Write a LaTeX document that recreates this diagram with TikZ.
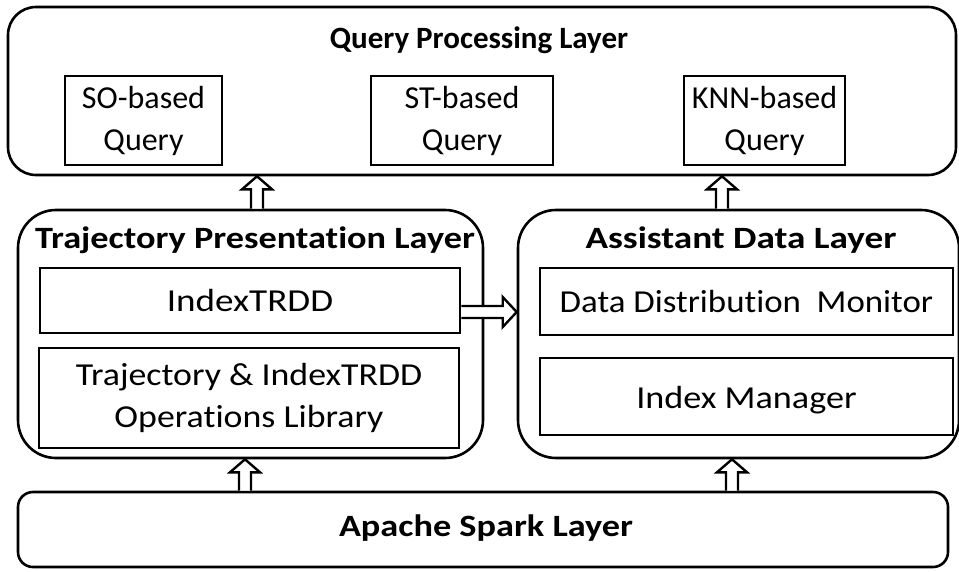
\documentclass[tikz,border=0pt]{standalone}
\usepackage{fontspec}
\setmainfont{Carlito}[Ligatures=NoCommon]
\usetikzlibrary{calc}
\newcommand\sx[2]{\scalebox{#1}[1]{#2}}
\begin{document}
\begin{tikzpicture}[x=1pt,y=-1pt,
  layer/.style={draw,line width=2.6pt,rounded corners=#1,inner sep=0pt},
  inbox/.style={draw,line width=2.6pt,inner sep=0pt,align=center,font=\fontsize{32}{42}\selectfont},
  ttl/.style={font=\fontsize{31}{36}\selectfont\bfseries,inner sep=0pt},
  hollow/.style={draw,line width=2.4pt,fill=white,line join=miter}]
\useasboundingbox (0,0) rectangle (959,571);
% layers
\node[layer=28,minimum width=948pt,minimum height=168pt] (qpl) at (482,91) {};
\node[ttl] (qplt) at (479,40) {Query Processing Layer};
\node[inbox,minimum width=157pt,minimum height=89pt] (so) at (143.5,120.5) {SO-based\\Query};
\node[inbox,minimum width=182pt,minimum height=89pt] (st) at (462,120.5) {ST-based\\Query};
\node[inbox,minimum width=161pt,minimum height=89pt] (knn) at (764.5,120.5) {KNN-based\\Query};
\node[layer=38,minimum width=465pt,minimum height=248pt] (tpl) at (250.5,334) {};
\node[ttl] (tplt) at (255,240) {\sx{1.17}{Trajectory Presentation Layer}};
\node[inbox,minimum width=420pt,minimum height=65pt] (idx) at (250,300.5) {\sx{1.16}{IndexTRDD}};
\node[inbox,minimum width=420pt,minimum height=100pt] (ops) at (249,398) {\sx{1.12}{Trajectory \& IndexTRDD}\\\sx{1.12}{Operations Library}};
\node[layer=38,minimum width=441pt,minimum height=248pt] (adl) at (738.5,334) {};
\node[ttl] (adlt) at (741,240) {\sx{1.2}{Assistant Data Layer}};
\node[inbox,minimum width=413pt,minimum height=67pt] (ddm) at (746.5,301.5) {\sx{1.09}{Data Distribution\ \ Monitor}};
\node[inbox,minimum width=413pt,minimum height=77pt] (im) at (746.5,396.5) {\raisebox{-5pt}[0.65em][0.2em]{\sx{1.13}{Index Manager}}};
\node[layer=15,minimum width=930pt,minimum height=75pt] (asl) at (483,529.5) {};
\node[ttl] (aslt) at (486,528) {\sx{1.17}{Apache Spark Layer}};
% arrow x positions
\coordinate (xa) at (257,0);
\coordinate (xb) at (722,0);
\coordinate (xc) at (245,0);
\coordinate (xd) at (732,0);
\coordinate (ya) at (0,312);
% hollow up arrows
\foreach \lo/\hi/\xx in {tpl/qpl/xa, adl/qpl/xb, asl/tpl/xc, asl/adl/xd}{
  \path[hollow] let \p1=(\lo.north -| \xx), \p2=(\hi.south -| \xx) in
    (\x1-6,\y1) -- ($(\x2,\y2)+(-6pt,-13pt)$) -- ($(\x2,\y2)+(-15pt,-13pt)$) -- (\p2)
    -- ($(\x2,\y2)+(15pt,-13pt)$) -- ($(\x2,\y2)+(6pt,-13pt)$) -- ($(\x1,\y1)+(6pt,0pt)$);
}
% horizontal arrow
\path[hollow] let \p1=(idx.east |- ya), \p2=(adl.west |- ya) in
  ($(\p1)+(0pt,6pt)$) -- ($(\p2)+(-14pt,6pt)$) -- ($(\p2)+(-14pt,15pt)$) -- (\p2)
  -- ($(\p2)+(-14pt,-15pt)$) -- ($(\p2)+(-14pt,-6pt)$) -- ($(\p1)+(0pt,-6pt)$);
\end{tikzpicture}
\end{document}
